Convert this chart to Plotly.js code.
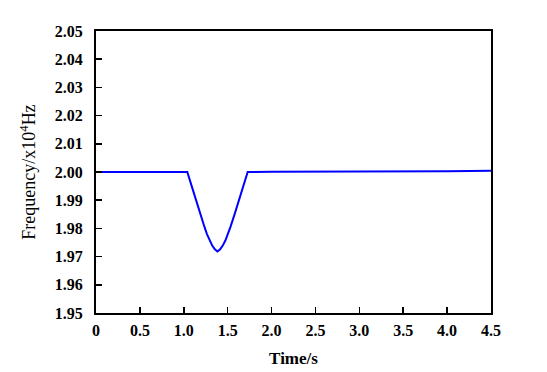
<!DOCTYPE html>
<html>
<head>
<meta charset="utf-8">
<script src="https://cdn.plot.ly/plotly-3.0.1.min.js"></script>
<style>html,body{margin:0;padding:0;background:#fff;}#chart{width:547px;height:372px;}</style>
</head>
<body>
<div id="chart"></div>
<script>
const time = [0, 0.5, 1.0, 1.040, 1.084, 1.128, 1.184, 1.234, 1.264, 1.294, 1.324, 1.354, 1.384, 1.414, 1.444, 1.474, 1.504, 1.534, 1.584, 1.640, 1.684, 1.728, 2.0, 2.5, 3.0, 3.5, 4.0, 4.5];
const freq = [2.0, 2.0, 2.0, 2.0000, 1.9956, 1.9910, 1.9855, 1.9807, 1.9780, 1.9757, 1.9739, 1.9726, 1.9718, 1.9726, 1.9739, 1.9757, 1.9780, 1.9807, 1.9855, 1.9910, 1.9956, 2.0000, 2.0001, 2.0001, 2.0002, 2.0002, 2.0003, 2.0004];
const xTickVals = [0, 0.5, 1.0, 1.5, 2.0, 2.5, 3.0, 3.5, 4.0, 4.5];
const xTickText = ["0", "0.5", "1.0", "1.5", "2.0", "2.5", "3.0", "3.5", "4.0", "4.5"];
const yTickVals = [1.95, 1.96, 1.97, 1.98, 1.99, 2.00, 2.01, 2.02, 2.03, 2.04, 2.05];
const yTickText = ["1.95", "1.96", "1.97", "1.98", "1.99", "2.00", "2.01", "2.02", "2.03", "2.04", "2.05"];

const serif = "Liberation Serif, Times New Roman, serif";
const trace = {
  x: time, y: freq, type: 'scatter', mode: 'lines',
  line: {color: '#0000ff', width: 2}, hoverinfo: 'skip'
};
const layout = {
  width: 547, height: 372,
  margin: {l: 96, r: 56, t: 31, b: 59},
  paper_bgcolor: '#fff', plot_bgcolor: '#fff',
  showlegend: false,
  font: {family: serif, color: '#000'},
  xaxis: {
    range: [0, 4.5], tickvals: xTickVals, ticktext: xTickText,
    ticks: 'inside', ticklen: 6, tickwidth: 1.5, tickcolor: '#000',
    showline: true, linecolor: '#000', linewidth: 2, mirror: true,
    showgrid: false, zeroline: false,
    ticklabelstandoff: 2,
    tickfont: {family: serif, size: 16, color: '#000', weight: 'bold'},
    title: {text: '<b>Time/s</b>', font: {family: serif, size: 17, color: '#000'}, standoff: 14}
  },
  yaxis: {
    range: [1.95, 2.05], tickvals: yTickVals, ticktext: yTickText,
    ticks: 'inside', ticklen: 6, tickwidth: 1.5, tickcolor: '#000',
    showline: true, linecolor: '#000', linewidth: 2, mirror: true,
    showgrid: false, zeroline: false,
    ticklabelstandoff: 8,
    tickfont: {family: serif, size: 16, color: '#000', weight: 'bold'},
    title: {text: 'Frequency/x10<sup>4</sup>Hz', font: {family: serif, size: 18, color: '#000'}, standoff: 14}
  }
};
Plotly.newPlot('chart', [trace], layout, {displayModeBar: false, staticPlot: true});
</script>
</body>
</html>
